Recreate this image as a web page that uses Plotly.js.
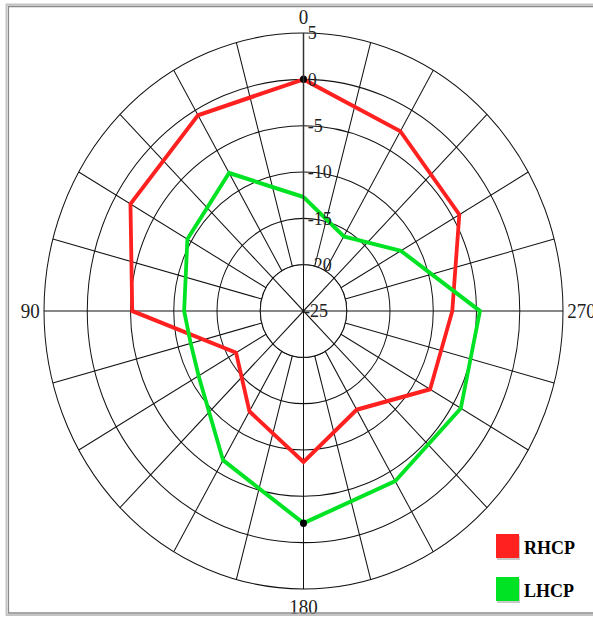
<!DOCTYPE html>
<html><head><meta charset="utf-8">
<script src="https://cdn.plot.ly/plotly-3.0.1.min.js"></script>
<style>
html,body{margin:0;padding:0;background:#fff;overflow:hidden;}
#wrap{width:593px;height:617px;overflow:hidden;}
#chart{width:593px;height:576px;transform-origin:0 0;}
</style>
</head><body><div id="wrap"><div id="chart"></div></div>
<script>
// ---- data (dB vs angle in degrees) ----
const seriesNames = ['RHCP', 'LHCP'];
const rhcpTheta = [0, 30, 60, 90, 120, 150, 180, 210, 240, 270, 300, 330];
const rhcpR     = [0, -0.6, -1.9, -5.2, -16.0, -12.5, -8.7, -12.7, -8.1, -7.8, -4.2, -2.6];
const lhcpTheta = [0, 30, 60, 90, 105, 120, 150, 180, 210, 240, 270, 300, 330];
const lhcpR     = [-12.7, -7.8, -9.5, -11.2, -11.5, -11.0, -6.4, -2.1, -3.8, -4.0, -4.6, -12.0, -15.7];
const radialTicks = [-20, -15, -10, -5, 0, 5];
const innerRadialTicks = [-25];
const angularLabelVals = [0, 90, 180, 270];
const angularLabelText = ['0', '90', '180', '270'];
const seriesColors = ['#ff2020', '#00e324'];

// ---- page geometry: the original picture is stretched vertically ----
const W = 593, HREF = 617, H = 576;
const k = HREF / H;                       // vertical stretch factor
document.getElementById('chart').style.transform = 'scaleY(' + k + ')';
const cx = 303.5, cyRef = 311, R = 259.5;
const cy = cyRef / k;
const rMin = -25, rHole = -20, rMax = 5;
const holeFrac = (rHole - rMin) / (rMax - rMin);
const rIn = R * holeFrac;

const gridVals = [];
for (let a = 0; a < 360; a += 15) gridVals.push(a);
const gridText = gridVals.map(v => {
  const i = angularLabelVals.indexOf(v);
  return i >= 0 ? angularLabelText[i] : '';
});
const innerGridVals = [];
for (let a = 0; a < 360; a += 45) innerGridVals.push(a);

function closeLoop(arr) { return arr.concat([arr[0]]); }

const series = [
  {name: seriesNames[0], theta: rhcpTheta, r: rhcpR, color: seriesColors[0]},
  {name: seriesNames[1], theta: lhcpTheta, r: lhcpR, color: seriesColors[1]}
];

const traces = [];
series.forEach(s => {
  traces.push({
    type: 'scatterpolar', mode: 'lines', name: s.name,
    theta: closeLoop(s.theta), r: closeLoop(s.r),
    line: {color: s.color, width: 3.8}, subplot: 'polar', showlegend: false,
    hoverinfo: 'skip'
  });
});
// peak markers
series.forEach(s => {
  let j = 0;
  s.r.forEach((v, i) => { if (v > s.r[j]) j = i; });
  traces.push({
    type: 'scatterpolar', mode: 'markers', theta: [s.theta[j]], r: [s.r[j]],
    marker: {color: '#000', size: 7}, subplot: 'polar', showlegend: false, hoverinfo: 'skip'
  });
});
// inner subplot placeholder (keeps its axes drawn)
traces.push({type: 'scatterpolar', mode: 'markers', theta: [0], r: [rMin],
  marker: {size: 1, color: 'rgba(0,0,0,0)'}, subplot: 'polar2', showlegend: false, hoverinfo: 'skip'});

const dom = (c, rad, total) => [(c - rad) / total, (c + rad) / total];
const serif = 'Liberation Serif, Times New Roman, serif';
const py = yRef => (H - yRef / k) / H;    // reference pixel row -> paper y

const shapes = [
  {type: 'rect', xref: 'paper', yref: 'paper', x0: 6.5 / W, x1: 1.02, y0: py(615), y1: py(4.5),
   line: {color: '#c4c4c4', width: 2}, fillcolor: 'rgba(0,0,0,0)'},
  {type: 'rect', xref: 'paper', yref: 'paper', x0: 8.5 / W, x1: 1.02, y0: py(613), y1: py(6.5),
   line: {color: '#8a8a8a', width: 1.2}, fillcolor: 'rgba(0,0,0,0)'}
];
const annotations = [];
const legTop = [534, 577];
series.forEach((s, i) => {
  const t = legTop[i];
  shapes.push({type: 'rect', xref: 'paper', yref: 'paper', x0: 497 / W, x1: 520 / W,
    y0: py(t + 26), y1: py(t + 2), line: {width: 0}, fillcolor: '#c8c8c8'});
  shapes.push({type: 'rect', xref: 'paper', yref: 'paper', x0: 496 / W, x1: 519 / W,
    y0: py(t + 24), y1: py(t), line: {width: 0}, fillcolor: s.color});
  annotations.push({xref: 'paper', yref: 'paper', x: 522 / W, y: py(t + 13),
    xanchor: 'left', yanchor: 'middle', showarrow: false, text: '<b>' + s.name + '</b>',
    font: {family: serif, size: 18, color: '#000'}});
});

const layout = {
  width: W, height: H,
  margin: {l: 0, r: 0, t: 0, b: 0},
  paper_bgcolor: '#fff',
  showlegend: false,
  shapes: shapes,
  annotations: annotations,
  polar: {
    domain: {x: dom(cx, R, W), y: dom(H - cy, R, H)},
    bgcolor: '#fff',
    hole: holeFrac,
    radialaxis: {
      range: [rHole, rMax], tickmode: 'array', tickvals: radialTicks,
      ticktext: radialTicks.map(String),
      angle: 90, side: 'clockwise', tickangle: 90,
      showline: true, linecolor: '#333', linewidth: 1.5,
      gridcolor: '#111', gridwidth: 1, ticks: '',
      tickfont: {family: serif, size: 18, color: '#222'}
    },
    angularaxis: {
      direction: 'counterclockwise', rotation: 90,
      tickmode: 'array', tickvals: gridVals, ticktext: gridText,
      showline: true, linecolor: '#111', linewidth: 1,
      gridcolor: '#111', gridwidth: 1, ticks: '',
      tickfont: {family: serif, size: 19, color: '#222'}
    }
  },
  polar2: {
    domain: {x: dom(cx, rIn, W), y: dom(H - cy, rIn, H)},
    bgcolor: '#fff',
    radialaxis: {
      range: [rMin, rHole], tickmode: 'array', tickvals: innerRadialTicks,
      ticktext: innerRadialTicks.map(String),
      angle: 90, side: 'clockwise', tickangle: 90,
      showline: false, showgrid: false, ticks: '',
      tickfont: {family: serif, size: 18, color: '#222'}
    },
    angularaxis: {
      direction: 'counterclockwise', rotation: 90,
      tickmode: 'array', tickvals: innerGridVals, showticklabels: false,
      showline: true, linecolor: '#111', linewidth: 1,
      gridcolor: '#111', gridwidth: 1, ticks: ''
    }
  }
};

Plotly.newPlot('chart', traces, layout, {displayModeBar: false, staticPlot: true});
</script>
</body></html>
